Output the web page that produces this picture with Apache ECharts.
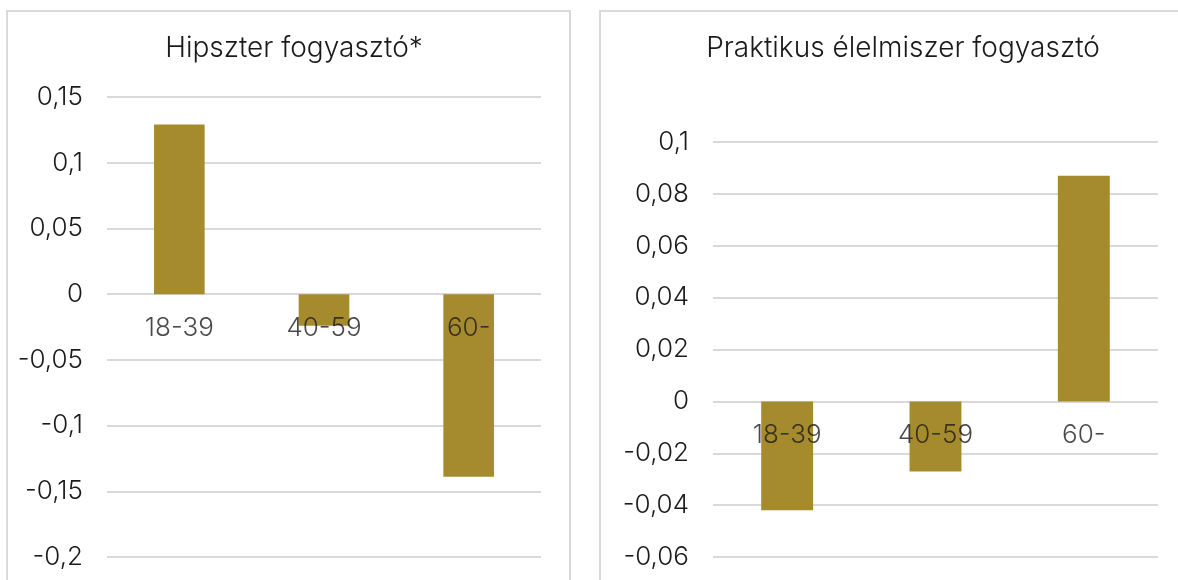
<!DOCTYPE html>
<html lang="hu">
    <head>
        <meta charset="utf-8">
        <title>Hipszter és praktikus fogyasztó</title>
        <style>
            html, body { margin: 0; padding: 0; background: #fff; }
        </style>
    </head>
    <body>
        <div id="echart" style="width: 1178px; height: 580px;"></div>
        <script src="https://cdn.jsdelivr.net/npm/echarts@6/dist/echarts.min.js"></script>
        <script>
            // korcsoportok
            let categories = ['18-39', '40-59', '60-'];
            let hipszterValues = [0.129, -0.024, -0.139];
            let praktikusValues = [-0.042, -0.027, 0.087];
            let titles = ['Hipszter fogyasztó*', 'Praktikus élelmiszer fogyasztó'];

            let font = 'Inter';
            let weight = 300;
            let textColor = '#1a1a1a';
            let barColor = '#a68b2e';

            function fmt(v) {
                return String(+v.toFixed(2)).replace('.', ',');
            }

            function yAxis(gridIndex, min, max, interval) {
                return {
                    type: 'value',
                    gridIndex: gridIndex,
                    min: min,
                    max: max,
                    interval: interval,
                    axisLine: {show: false},
                    axisTick: {show: false},
                    axisLabel: {
                        color: textColor,
                        fontFamily: font,
                        fontWeight: weight,
                        fontSize: 26,
                        margin: 24,
                        formatter: fmt
                    },
                    splitLine: {lineStyle: {color: '#d9d9d9', width: 2}}
                };
            }

            function xAxis(gridIndex) {
                return {
                    type: 'category',
                    gridIndex: gridIndex,
                    data: categories,
                    axisLine: {show: false},
                    axisTick: {show: false},
                    axisLabel: {show: false}
                };
            }

            // kategória feliratok a nulla vonal alatt, a sávok fölött
            function catLabels(gridIndex) {
                return {
                    type: 'scatter',
                    xAxisIndex: gridIndex,
                    yAxisIndex: gridIndex,
                    silent: true,
                    z: 10,
                    symbolSize: 0,
                    data: categories.map(c => ({name: c, value: [c, 0]})),
                    label: {
                        show: true,
                        position: 'bottom',
                        distance: 21,
                        formatter: '{b}',
                        color: textColor,
                        fontFamily: font,
                        fontWeight: weight,
                        fontSize: 26
                    }
                };
            }

            let myChart = echarts.init(document.getElementById('echart'));
            let option = {
                animation: false,
                graphic: [
                    {type: 'rect', shape: {x: 7, y: 11, width: 563, height: 600}, style: {fill: 'none', stroke: '#d9d9d9', lineWidth: 2}},
                    {type: 'rect', shape: {x: 600, y: 11, width: 596, height: 600}, style: {fill: 'none', stroke: '#d9d9d9', lineWidth: 2}}
                ],
                title: [
                    {text: titles[0], left: 289, top: 30, textAlign: 'center',
                     textStyle: {color: textColor, fontFamily: font, fontWeight: weight, fontSize: 28}},
                    {text: titles[1], left: 898, top: 30, textAlign: 'center',
                     textStyle: {color: textColor, fontFamily: font, fontWeight: weight, fontSize: 28}}
                ],
                grid: [
                    {left: 107, right: 637, top: 97, bottom: 23, containLabel: false, outerBoundsMode: 'none'},
                    {left: 713, right: 20, top: 142, bottom: 23, containLabel: false, outerBoundsMode: 'none'}
                ],
                xAxis: [xAxis(0), xAxis(1)],
                yAxis: [yAxis(0, -0.2, 0.15, 0.05), yAxis(1, -0.06, 0.1, 0.02)],
                series: [
                    {type: 'bar', xAxisIndex: 0, yAxisIndex: 0, data: hipszterValues, barWidth: '35%', itemStyle: {color: barColor}},
                    {type: 'bar', xAxisIndex: 1, yAxisIndex: 1, data: praktikusValues, barWidth: '35%', itemStyle: {color: barColor}},
                    catLabels(0),
                    catLabels(1)
                ]
            };
            myChart.setOption(option);
        </script>
    </body>
</html>
